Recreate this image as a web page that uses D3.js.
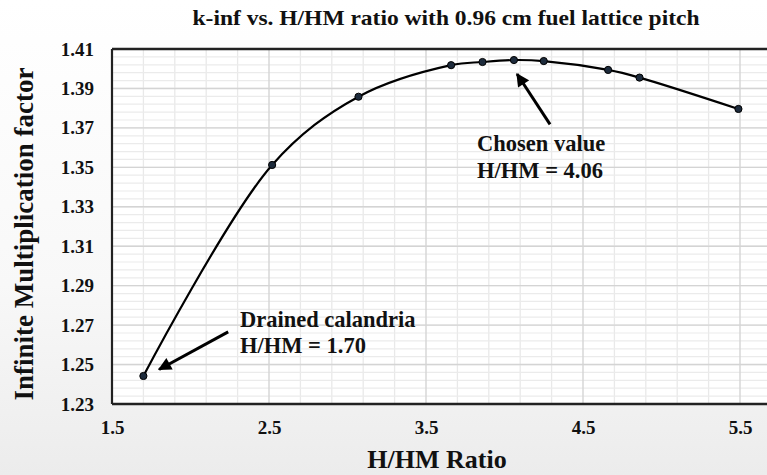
<!DOCTYPE html>
<html lang="en">
<head>
<meta charset="utf-8"/>
<title>k-inf vs H/HM ratio</title>
<script src="https://d3js.org/d3.v7.min.js"></script>
<style>
  body { margin: 0; background: #fff; }
  text { font-family: "Liberation Serif", "Times New Roman", serif; font-weight: bold; fill: #111; }
</style>
</head>
<body>
<script>
// chart values
var hhm   = [1.70, 2.52, 3.07, 3.66, 3.86, 4.06, 4.25, 4.66, 4.86, 5.49];
var kinf  = [1.2442, 1.3512, 1.3858, 1.4018, 1.4034, 1.4044, 1.4039, 1.3994, 1.3955, 1.3796];
var xTicks = [1.5, 2.5, 3.5, 4.5, 5.5];
var yTicks = [1.23, 1.25, 1.27, 1.29, 1.31, 1.33, 1.35, 1.37, 1.39, 1.41];

var titleText = "k-inf vs. H/HM ratio with 0.96 cm fuel lattice pitch";
var xTitle = "H/HM Ratio";
var yTitle = "Infinite Multiplication factor";

// annotations: label lines + arrow (tail, tip) in data units
var notes = [
  { lines: ["Chosen value", "H/HM = 4.06"], at: [3.825, 1.3581], gap: 27, tail: [4.29, 1.3718], tip: [4.08, 1.3973] },
  { lines: ["Drained calandria", "H/HM = 1.70"], at: [2.315, 1.2691], gap: 26, tail: [2.24, 1.2666], tip: [1.80, 1.2475] }
];

var w = 767, h = 475;
var padLeft = 112, padTop = 49, padBottom = 404;

var x = d3.scaleLinear().domain([1.5, 5.7]).range([padLeft, padLeft + 4.2 * 157]);
var y = d3.scaleLinear().domain([1.23, 1.41]).range([padBottom, padTop]);

var svg = d3.select("body").append("svg")
    .attr("width", w)
    .attr("height", h);

var defs = svg.append("defs");
var grad = defs.append("linearGradient").attr("id", "bg")
    .attr("x1", 0).attr("y1", 0).attr("x2", 0).attr("y2", 1);
grad.append("stop").attr("offset", "0%").attr("stop-color", "#ffffff");
grad.append("stop").attr("offset", "60%").attr("stop-color", "#f8f8f8");
grad.append("stop").attr("offset", "100%").attr("stop-color", "#ececec");

defs.append("marker").attr("id", "head")
    .attr("viewBox", "0 0 10 10")
    .attr("refX", 9).attr("refY", 5)
    .attr("markerWidth", 5).attr("markerHeight", 4.4)
    .attr("markerUnits", "strokeWidth")
    .attr("orient", "auto")
  .append("path").attr("d", "M0,0 L10,5 L0,10 Z").attr("fill", "#000");

svg.append("rect").attr("width", w).attr("height", h).attr("fill", "url(#bg)");

// plot area
svg.append("rect")
    .attr("x", padLeft).attr("y", padTop)
    .attr("width", w - padLeft + 20).attr("height", padBottom - padTop)
    .attr("fill", "#fff");

// minor gridlines
var xMinor = [1.7, 1.9, 2.1, 2.3, 2.7, 2.9, 3.1, 3.3, 3.7, 3.9, 4.1, 4.3, 4.7, 4.9, 5.1, 5.3, 5.7];
var yMinor = d3.range(1.234, 1.41, 0.004);

svg.append("g").selectAll("line").data(xMinor).enter().append("line")
    .attr("x1", function(d) { return x(d); }).attr("x2", function(d) { return x(d); })
    .attr("y1", padTop).attr("y2", padBottom)
    .attr("stroke", "#e9e9e9").attr("stroke-width", 1.3);

svg.append("g").selectAll("line").data(yMinor).enter().append("line")
    .attr("x1", padLeft).attr("x2", w)
    .attr("y1", function(d) { return y(d); }).attr("y2", function(d) { return y(d); })
    .attr("stroke", "#ebebeb").attr("stroke-width", 1.2);

// major gridlines
svg.append("g").selectAll("line").data(xTicks.slice(1)).enter().append("line")
    .attr("x1", function(d) { return x(d); }).attr("x2", function(d) { return x(d); })
    .attr("y1", padTop).attr("y2", padBottom)
    .attr("stroke", "#d4d4d4").attr("stroke-width", 1.4);

svg.append("g").selectAll("line").data(yTicks.slice(1, -1)).enter().append("line")
    .attr("x1", padLeft).attr("x2", w)
    .attr("y1", function(d) { return y(d); }).attr("y2", function(d) { return y(d); })
    .attr("stroke", "#d4d4d4").attr("stroke-width", 1.4);

// axes (labels only, frame drawn separately)
var xAxis = svg.append("g")
    .attr("transform", "translate(0," + padBottom + ")")
    .call(d3.axisBottom(x).tickValues(xTicks).tickSize(0).tickPadding(17).tickFormat(d3.format(".1f")));
xAxis.select(".domain").remove();
xAxis.selectAll("text").style("font-size", "19px").style("font-family", null);

var yAxis = svg.append("g")
    .attr("transform", "translate(" + (padLeft - 18) + ",0)")
    .call(d3.axisLeft(y).tickValues(yTicks).tickSize(0).tickPadding(0).tickFormat(d3.format(".2f")));
yAxis.select(".domain").remove();
yAxis.selectAll("text").style("font-size", "19px").style("font-family", null);

// frame
svg.append("line").attr("x1", padLeft).attr("x2", w).attr("y1", padTop).attr("y2", padTop)
    .attr("stroke", "#222").attr("stroke-width", 2.5);
svg.append("line").attr("x1", padLeft).attr("x2", w).attr("y1", padBottom).attr("y2", padBottom)
    .attr("stroke", "#222").attr("stroke-width", 2.5);
svg.append("line").attr("x1", padLeft).attr("x2", padLeft).attr("y1", padTop).attr("y2", padBottom)
    .attr("stroke", "#222").attr("stroke-width", 2.2);

// series
var pts = hhm.map(function(d, i) { return [d, kinf[i]]; });
var line = d3.line()
    .x(function(d) { return x(d[0]); })
    .y(function(d) { return y(d[1]); })
    .curve(d3.curveCatmullRom.alpha(0.5));

svg.append("path").datum(pts)
    .attr("d", line)
    .attr("fill", "none")
    .attr("stroke", "#000")
    .attr("stroke-width", 2.2);

svg.append("g").selectAll("circle").data(pts).enter().append("circle")
    .attr("cx", function(d) { return x(d[0]); })
    .attr("cy", function(d) { return y(d[1]); })
    .attr("r", 3.6)
    .attr("fill", "#1d2b3c")
    .attr("stroke", "#000")
    .attr("stroke-width", 1);

// annotations
notes.forEach(function(n) {
  svg.append("line")
      .attr("x1", x(n.tail[0])).attr("y1", y(n.tail[1]))
      .attr("x2", x(n.tip[0])).attr("y2", y(n.tip[1]))
      .attr("stroke", "#000").attr("stroke-width", 3)
      .attr("marker-end", "url(#head)");
  svg.append("g").selectAll("text").data(n.lines).enter().append("text")
      .attr("x", x(n.at[0]))
      .attr("y", function(d, i) { return y(n.at[1]) + i * n.gap; })
      .style("font-size", "22.5px")
      .text(function(d) { return d; });
});

// titles
svg.append("text")
    .attr("x", 446).attr("y", 25)
    .attr("text-anchor", "middle")
    .attr("textLength", 507)
    .attr("lengthAdjust", "spacingAndGlyphs")
    .style("font-size", "21px")
    .text(titleText);

svg.append("text")
    .attr("x", 437).attr("y", 468)
    .attr("text-anchor", "middle")
    .style("font-size", "26px")
    .text(xTitle);

svg.append("text")
    .attr("transform", "translate(33,234) rotate(-90)")
    .attr("text-anchor", "middle")
    .style("font-size", "27px")
    .text(yTitle);
</script>
</body>
</html>
